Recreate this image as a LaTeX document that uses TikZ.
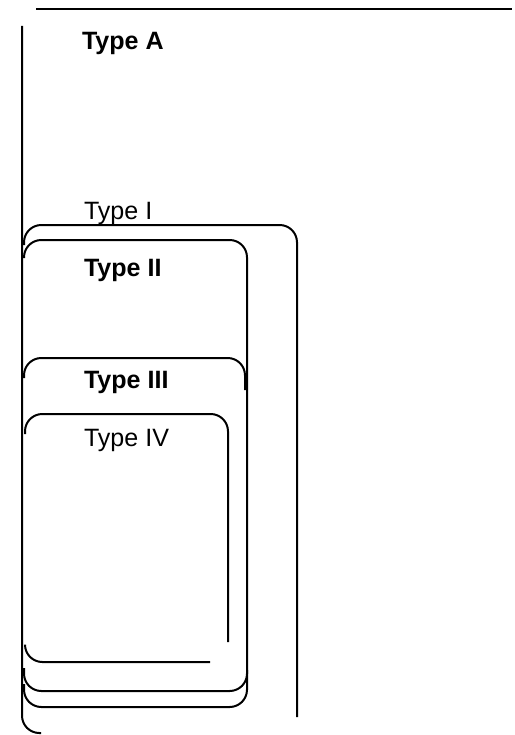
\documentclass[tikz,border=0pt]{standalone}
\usepackage{fontspec}
\setmainfont{Liberation Sans}

\tikzset{every picture/.style={line width=1.5pt}}
\tikzset{
	typelabel/.style={anchor=base west, inner sep=0pt, font=\fontsize{18.8}{22}\selectfont},
	typebold/.style={typelabel, font=\fontsize{18.8}{22}\selectfont\bfseries},
	typeline/.style={rounded corners=13pt}}

\begin{document}
\begin{tikzpicture}[x=0.75pt,y=0.75pt,yscale=-1,xscale=1]
	\useasboundingbox (0,0) rectangle (514,735); %diagram is 514 wide and 735 high

	%Straight Lines [id:top]
	\draw    (36,9) -- (512,9) ;
	%Shape: Type A / Type I left side
	\draw  [typeline]  (22,26) -- (22,733) -- (41,733) ;
	%Shape: Type I top
	\draw  [typeline]  (24,245) -- (24,225) -- (297,225) -- (297,717) ;
	%Shape: Type II
	\draw  [typeline]  (24,258) -- (24,240) -- (247,240) -- (247,707) -- (24,707) -- (24,684) ;
	%Shape: Type III top
	\draw  [typeline]  (24,378) -- (24,358) -- (245,358) -- (245,390) ;
	%Shape: Type III bottom
	\draw  [typeline]  (24,668) -- (24,691) -- (247,691) -- (247,670) ;
	%Shape: Type IV top
	\draw  [typeline]  (25,434) -- (25,414) -- (228,414) -- (228,642) ;
	%Shape: Type IV bottom
	\draw  [typeline]  (25,645) -- (25,662) -- (210,662) ;

	% Text Node
	\draw (81,50) node  [typebold] (typeA)  {Type A};
	% Text Node
	\draw (83,219) node  [typelabel] (typeI)  {Type I};
	% Text Node
	\draw (83,276) node  [typebold] (typeII)  {Type II};
	% Text Node
	\draw (83,388) node  [typebold] (typeIII)  {Type III};
	% Text Node
	\draw (83,446) node  [typelabel] (typeIV)  {Type IV};

\end{tikzpicture}
\end{document}
